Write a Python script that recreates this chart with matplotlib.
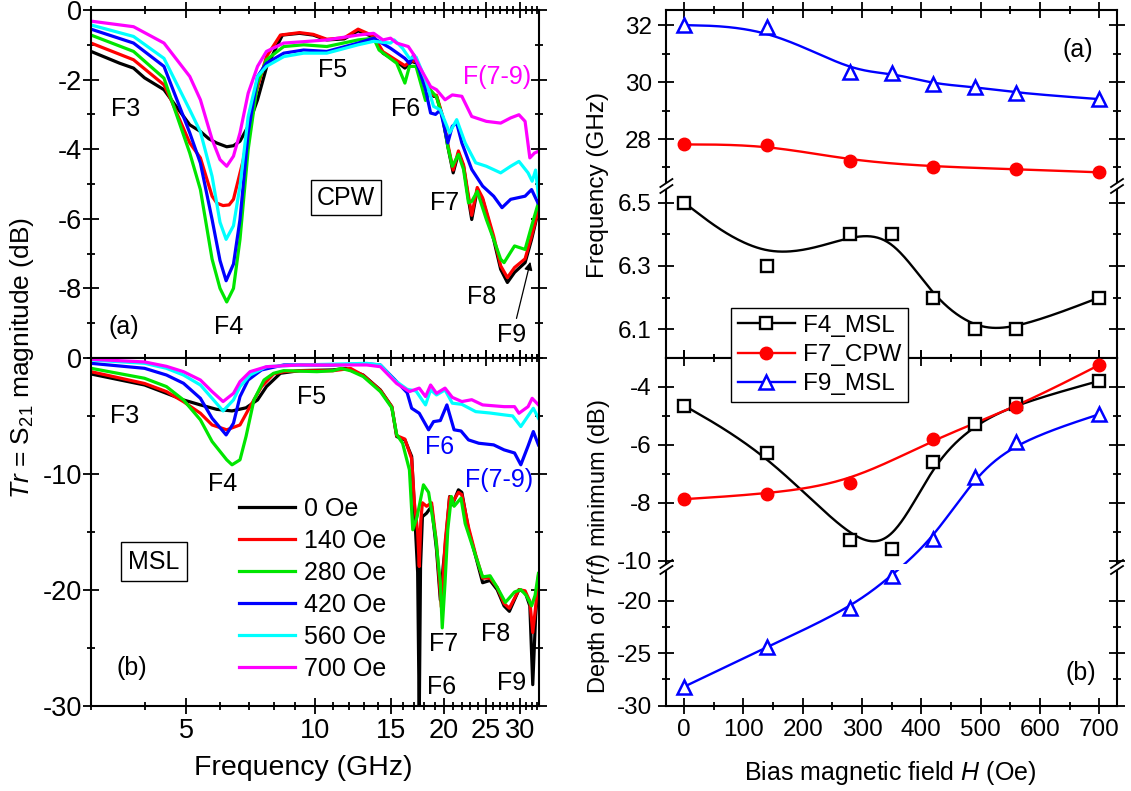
import numpy as np
import matplotlib
matplotlib.use("Agg")
import matplotlib.pyplot as plt
from matplotlib.ticker import FixedLocator, MultipleLocator, NullFormatter, FormatStrFormatter
from matplotlib.lines import Line2D
from matplotlib.patches import Rectangle

plt.rcParams['font.family'] = ['Liberation Sans', 'DejaVu Sans']
plt.rcParams['mathtext.fontset'] = 'custom'
plt.rcParams['mathtext.rm'] = 'Liberation Sans'
plt.rcParams['mathtext.it'] = 'Liberation Sans:italic'
plt.rcParams['mathtext.bf'] = 'Liberation Sans:bold'
plt.rcParams['axes.unicode_minus'] = False

# ---------------- data : CPW spectra (panel a, left) ----------------
cpw_f_0 = [3.0, 3.5, 3.77, 4.0, 4.44, 4.6, 5.1, 5.4, 5.65, 5.89, 6.22, 6.45, 6.68, 6.98, 7.34, 7.71, 8.39, 9.2, 9.9,
           10.65, 11.7, 12.6, 13.7, 14.4, 15.5, 16.2, 16.8, 17.3, 18.2, 18.9, 19.2, 19.9, 20.4, 21.0, 21.6, 22.2,
           22.8, 23.2, 23.9, 24.6, 26.1, 27.1, 28.1, 29.2, 30.9, 32.0, 33.1]
cpw_db_0 = [-1.19, -1.53, -1.67, -1.95, -2.29, -2.55, -3.30, -3.49, -3.70, -3.82, -3.93, -3.90, -3.77, -3.34, -2.58,
            -1.63, -0.72, -0.67, -0.72, -0.86, -0.83, -0.60, -0.78, -1.24, -1.48, -1.67, -1.48, -1.53, -2.20, -2.48,
            -2.48, -3.15, -3.92, -4.68, -4.11, -4.49, -5.44, -6.02, -5.16, -5.44, -6.59, -7.45, -7.83, -7.54, -7.26,
            -6.59, -5.83]
cpw_f_140 = [3.0, 3.77, 4.44, 4.6, 5.1, 5.4, 5.75, 5.9, 6.1, 6.3, 6.45, 6.8, 7.2, 7.7, 8.3, 9.2, 9.9, 10.65, 11.7,
             12.6, 13.7, 14.4, 15.5, 16.2, 16.8, 17.3, 18.2, 18.9, 19.2, 19.9, 20.4, 21.0, 21.6, 22.2, 22.8, 23.2,
             23.9, 24.6, 26.1, 27.1, 28.1, 29.2, 30.9, 32.0, 33.1]
cpw_db_140 = [-0.95, -1.43, -2.15, -2.55, -3.82, -4.25, -5.35, -5.55, -5.62, -5.60, -5.44, -4.30, -2.58, -1.34, -0.72,
              -0.65, -0.70, -0.84, -0.80, -0.55, -0.75, -1.20, -1.45, -1.60, -1.45, -1.50, -2.15, -2.45, -2.45, -3.10,
              -3.85, -4.60, -4.05, -4.45, -5.35, -5.90, -5.10, -5.40, -6.50, -7.35, -7.69, -7.40, -7.15, -6.50, -5.80]
cpw_f_280 = [3.0, 3.77, 4.44, 5.1, 5.4, 5.75, 6.0, 6.22, 6.45, 6.68, 6.98, 7.34, 7.7, 8.45, 9.4, 10.65, 12.6, 13.7,
             14.1, 15.5, 16.2, 16.6, 17.2, 18.1, 18.6, 19.2, 19.9, 20.4, 20.9, 21.6, 22.2, 22.8, 23.2, 23.9, 25.1,
             26.1, 27.1, 27.6, 29.2, 30.9, 32.0, 33.1]
cpw_db_280 = [-0.72, -1.19, -1.96, -4.11, -5.16, -7.16, -8.00, -8.39, -8.00, -6.59, -4.01, -2.10, -1.43, -1.05, -1.00,
              -1.05, -0.86, -0.81, -1.15, -1.53, -2.10, -1.62, -1.62, -2.60, -2.30, -2.50, -3.15, -3.92, -4.49, -4.15,
              -4.58, -5.54, -5.50, -5.21, -6.02, -6.59, -7.16, -7.26, -6.78, -6.88, -6.21, -5.59]
cpw_f_420 = [3.0, 3.77, 4.44, 5.1, 5.4, 5.75, 6.0, 6.2, 6.45, 6.68, 6.98, 7.34, 7.7, 8.45, 9.4, 10.65, 12.6, 13.7,
             15.0, 16.2, 16.6, 17.0, 17.5, 18.1, 18.6, 19.1, 19.6, 20.4, 20.9, 21.4, 22.0, 23.2, 24.6, 26.1, 27.3,
             28.6, 30.9, 32.0, 33.1]
cpw_db_420 = [-0.55, -0.95, -1.62, -3.53, -4.40, -6.02, -7.20, -7.78, -7.30, -6.02, -3.53, -1.91, -1.53, -1.24, -1.15,
              -1.19, -0.95, -0.81, -1.10, -1.39, -1.53, -1.29, -1.72, -2.29, -2.96, -3.00, -2.87, -3.82, -3.34, -3.25,
              -3.82, -4.58, -5.06, -5.35, -5.68, -5.44, -5.35, -5.16, -5.54]
cpw_f_560 = [3.0, 3.77, 4.44, 5.1, 5.4, 5.75, 6.0, 6.2, 6.45, 6.68, 6.98, 7.34, 7.7, 8.45, 9.4, 10.65, 12.6, 13.7,
             15.0, 15.3, 16.0, 16.6, 17.2, 18.1, 18.9, 19.6, 20.6, 21.4, 22.4, 23.7, 25.1, 27.1, 28.6, 29.9, 31.4,
             32.1, 32.7, 33.2]
cpw_db_560 = [-0.43, -0.76, -1.39, -2.87, -3.50, -4.78, -6.10, -6.59, -6.20, -5.06, -3.06, -1.91, -1.62, -1.34, -1.24,
              -1.24, -1.00, -0.90, -0.95, -0.86, -1.10, -1.39, -1.35, -2.00, -2.77, -2.87, -3.53, -3.15, -3.82, -4.39,
              -4.49, -4.68, -4.49, -4.35, -4.68, -4.92, -4.60, -5.35]
cpw_f_700 = [3.0, 3.77, 4.44, 5.1, 5.4, 5.75, 6.0, 6.22, 6.45, 6.68, 6.98, 7.34, 7.7, 8.45, 9.4, 10.65, 12.6, 13.7,
             14.4, 15.0, 15.5, 16.5, 16.9, 17.5, 18.6, 19.2, 20.1, 20.9, 22.0, 23.2, 25.1, 27.1, 28.6, 29.9, 30.9,
             31.7, 32.5, 33.2]
cpw_db_700 = [-0.32, -0.48, -0.95, -1.91, -2.58, -3.72, -4.30, -4.49, -4.20, -3.53, -2.39, -1.62, -1.19, -0.95, -0.91,
              -0.86, -0.72, -0.67, -0.86, -0.81, -0.95, -1.05, -1.24, -1.62, -2.20, -2.29, -2.58, -2.44, -2.48, -3.06,
              -3.20, -3.25, -3.10, -3.01, -3.20, -4.25, -4.11, -4.06]

# ---------------- data : MSL spectra (panel b, left) ----------------
msl_f_0 = [3.0, 4.0, 4.5, 4.93, 5.4, 5.89, 6.4, 6.9, 7.34, 7.7, 8.3, 9.2, 11.0, 11.8, 12.95, 14.2, 15.1, 15.5, 16.2,
           16.8, 17.05, 17.35, 17.5, 17.62, 17.8, 18.2, 18.7, 19.2, 19.6, 19.9, 20.1, 20.6, 20.9, 21.6, 22.0, 22.8,
           23.7, 24.6, 25.6, 26.6, 27.6, 28.4, 29.9, 30.9, 31.7, 32.2, 32.7, 33.2]
msl_db_0 = [-1.38, -2.33, -3.05, -3.62, -4.05, -4.43, -4.57, -4.30, -3.62, -2.47, -1.32, -1.09, -1.03, -0.90, -1.47,
            -2.76, -4.20, -6.78, -7.07, -8.50, -13.0, -18.5, -31.0, -18.0, -13.7, -13.4, -12.8, -16.55, -20.9, -18.0,
            -16.5, -11.96, -12.67, -11.38, -11.6, -14.83, -17.13, -19.4, -19.2, -20.0, -21.4, -21.87, -20.0, -20.2,
            -21.4, -28.2, -22.3, -19.1]
msl_f_140 = [3.0, 4.0, 4.5, 4.93, 5.4, 5.75, 6.22, 6.68, 7.05, 7.5, 8.0, 8.45, 9.2, 11.0, 12.1, 12.95, 14.2, 15.1,
             15.5, 16.2, 16.8, 17.05, 17.35, 17.5, 17.65, 17.8, 18.2, 18.7, 19.2, 19.7, 20.1, 20.6, 20.9, 21.6, 22.0,
             22.8, 23.7, 24.6, 25.6, 26.6, 27.6, 28.4, 29.9, 30.9, 31.7, 32.2, 32.7, 33.2]
msl_db_140 = [-1.18, -2.20, -2.90, -3.77, -4.77, -5.78, -6.20, -5.78, -4.20, -2.47, -1.38, -1.18, -1.10, -1.10, -0.90,
              -1.50, -2.80, -4.20, -6.70, -7.00, -8.70, -12.5, -15.0, -18.0, -14.0, -12.5, -12.8, -12.5, -16.0, -21.5,
              -16.0, -12.0, -12.5, -11.6, -11.8, -14.6, -17.0, -19.0, -19.0, -19.8, -21.2, -21.6, -20.0, -20.1, -21.0,
              -23.7, -21.5, -18.8]
msl_f_280 = [3.0, 4.0, 4.5, 4.93, 5.4, 5.75, 6.22, 6.4, 6.68, 6.9, 7.2, 7.6, 8.0, 8.45, 10.1, 11.0, 11.5, 12.1, 12.95,
             14.2, 15.1, 15.5, 16.0, 16.6, 16.9, 17.3, 17.9, 18.4, 19.1, 19.6, 19.8, 20.1, 20.4, 20.8, 21.1, 21.9,
             22.4, 23.7, 24.6, 25.6, 26.6, 27.8, 29.2, 30.2, 31.1, 32.0, 32.6, 33.2]
msl_db_280 = [-0.89, -1.75, -2.47, -3.62, -5.34, -7.21, -8.79, -9.22, -8.79, -6.78, -3.62, -1.90, -1.32, -1.09, -1.18,
              -1.10, -0.90, -1.10, -1.60, -2.90, -4.30, -6.60, -7.36, -9.66, -14.83, -13.7, -10.95, -11.6, -15.4,
              -19.4, -23.3, -19.4, -14.8, -11.96, -12.8, -12.1, -14.3, -17.1, -18.9, -18.8, -19.8, -21.1, -20.2,
              -20.0, -20.5, -21.4, -20.5, -18.6]
msl_f_420 = [3.0, 4.0, 4.5, 4.93, 5.4, 5.75, 6.2, 6.45, 6.68, 6.98, 7.5, 8.45, 11.0, 13.2, 14.2, 15.5, 16.4, 16.8,
             17.5, 18.4, 18.9, 19.6, 20.3, 21.1, 21.9, 22.8, 24.1, 26.1, 27.6, 29.2, 30.2, 31.4, 32.3, 33.2]
msl_db_420 = [-0.46, -0.89, -1.47, -2.18, -3.48, -5.20, -6.64, -5.63, -3.33, -1.90, -1.03, -0.60, -0.60, -0.50, -0.60,
              -2.04, -3.00, -4.34, -4.77, -6.20, -5.49, -5.40, -4.05, -6.20, -6.30, -7.07, -7.36, -7.50, -7.93, -8.20,
              -9.22, -7.60, -6.35, -7.50]
msl_f_560 = [3.0, 4.0, 4.5, 4.93, 5.4, 5.75, 6.1, 6.45, 6.68, 7.05, 7.7, 9.2, 13.2, 14.2, 15.3, 16.4, 17.2, 18.1,
             18.6, 19.2, 20.1, 20.9, 22.0, 23.7, 25.6, 27.6, 28.9, 30.2, 31.4, 32.3, 33.2]
msl_db_560 = [-0.17, -0.46, -0.89, -1.47, -2.33, -3.48, -4.57, -3.62, -2.47, -1.47, -0.75, -0.60, -0.46, -0.60, -1.90,
              -2.70, -2.85, -4.05, -2.75, -3.19, -2.75, -3.90, -4.00, -4.63, -4.75, -4.91, -5.00, -5.92, -5.00, -4.34,
              -5.20]
msl_f_700 = [3.0, 4.0, 4.5, 4.93, 5.4, 5.75, 6.1, 6.45, 6.68, 7.05, 7.7, 9.2, 13.2, 14.2, 15.5, 16.6, 17.5, 18.1,
             18.6, 19.2, 20.1, 20.9, 22.0, 23.2, 24.6, 27.6, 29.2, 29.9, 31.4, 32.1, 33.2]
msl_db_700 = [-0.11, -0.34, -0.72, -1.18, -1.90, -2.90, -3.76, -3.05, -2.04, -1.18, -0.75, -0.60, -0.60, -0.75, -2.20,
              -2.90, -2.60, -3.33, -2.33, -3.05, -2.60, -3.40, -3.76, -3.60, -4.05, -4.20, -4.20, -4.77, -4.20, -3.48,
              -4.05]

field_labels = ['0 Oe', '140 Oe', '280 Oe', '420 Oe', '560 Oe', '700 Oe']
curve_colors = ['#000000', '#ff0000', '#00e600', '#0000ff', '#00ffff', '#ff00ff']

# ---------------- data : right panels ----------------
field_H = [0, 140, 280, 350, 420, 490, 560, 700]
field_H_cpw = [0, 140, 280, 420, 560, 700]
f4_msl_freq = [6.5, 6.3, 6.4, 6.4, 6.2, 6.1, 6.1, 6.2]
f7_cpw_freq = [27.81, 27.80, 27.24, 27.03, 26.94, 26.83]
f9_msl_freq = [32.0, 31.93, 30.37, 30.33, 29.93, 29.83, 29.62, 29.40]
f4_msl_depth = [-4.65, -6.3, -9.3, -9.6, -6.6, -5.3, -4.6, -3.8]
f7_cpw_depth = [-7.88, -7.70, -7.31, -5.81, -4.71, -3.25]
f9_msl_depth = [-28.2, -24.4, -20.7, -17.6, -9.25, -7.1, -5.9, -4.95]

# ---------------- figure / layout ----------------
W, H = 1131, 791
fig = plt.figure(figsize=(W / 100, H / 100), dpi=100)


def fx(px):
    return px / W


def fy(py):
    return 1 - py / H


def add_ax(x0, x1, y0, y1):
    return fig.add_axes([fx(x0), fy(y1), (x1 - x0) / W, (y1 - y0) / H])


SP_LW = 1.5
FS_L = 18      # annotations / legend (left)
FS_LT = 19.5   # tick labels (left)
FS_LL = 20.5   # axis titles (left)
FS_R = 17.5    # legend / labels (right)
FS_RT = 17.5   # tick labels (right)


def style(ax, fs, pad_x=4, pad_y=1.5):
    for s in ax.spines.values():
        s.set_linewidth(SP_LW)
    ax.tick_params(which='both', direction='inout', top=True, right=True, width=1.3, labelsize=fs)
    ax.tick_params(which='major', length=11)
    ax.tick_params(which='minor', length=5.5)
    ax.tick_params(axis='x', pad=pad_x)
    ax.tick_params(axis='y', pad=pad_y)


# ---- left panels ----
LX0, LX1 = 91, 539
ax_t = add_ax(LX0, LX1, 10, 358)
ax_b = add_ax(LX0, LX1, 358, 705.5)

cpw_sets = [(cpw_f_0, cpw_db_0), (cpw_f_140, cpw_db_140), (cpw_f_280, cpw_db_280),
            (cpw_f_420, cpw_db_420), (cpw_f_560, cpw_db_560), (cpw_f_700, cpw_db_700)]
msl_sets = [(msl_f_0, msl_db_0), (msl_f_140, msl_db_140), (msl_f_280, msl_db_280),
            (msl_f_420, msl_db_420), (msl_f_560, msl_db_560), (msl_f_700, msl_db_700)]

for (f, d), c in zip(cpw_sets, curve_colors):
    ax_t.plot(f, d, color=c, lw=2.3, solid_joinstyle='round')
handles = []
for (f, d), c, lab in zip(msl_sets, curve_colors, field_labels):
    h, = ax_b.plot(f, d, color=c, lw=2.3, solid_joinstyle='round', label=lab)
    handles.append(h)

major_f = [5, 10, 15, 20, 25, 30]
minor_f = [3, 4, 6, 7, 8, 9, 11, 12, 13, 14, 16, 17, 18, 19, 21, 22, 23, 24, 26, 27, 28, 29, 31, 32, 33]
for ax in (ax_t, ax_b):
    ax.set_xscale('log')
    ax.set_xlim(3.0, 33.3)
    ax.xaxis.set_major_locator(FixedLocator(major_f))
    ax.xaxis.set_minor_locator(FixedLocator(minor_f))
    ax.xaxis.set_major_formatter(FormatStrFormatter('%d'))
    ax.xaxis.set_minor_formatter(NullFormatter())
    style(ax, FS_LT, pad_x=3.5, pad_y=1.0)

ax_t.set_ylim(-10, 0)
ax_t.yaxis.set_major_locator(FixedLocator([0, -2, -4, -6, -8]))
ax_t.yaxis.set_minor_locator(FixedLocator([-1, -3, -5, -7, -9, -10]))
ax_t.tick_params(labelbottom=False)
ax_b.set_ylim(-30, 0)
ax_b.yaxis.set_major_locator(FixedLocator([0, -10, -20, -30]))
ax_b.yaxis.set_minor_locator(FixedLocator([-5, -15, -25]))

# annotations top
ax_t.text(3.62, -2.84, 'F3', fontsize=FS_L, ha='center', va='center')
ax_t.text(6.27, -9.11, 'F4', fontsize=FS_L, ha='center', va='center')
ax_t.text(10.96, -1.72, 'F5', fontsize=FS_L, ha='center', va='center')
ax_t.text(16.3, -2.84, 'F6', fontsize=FS_L, ha='center', va='center')
ax_t.text(20.1, -5.56, 'F7', fontsize=FS_L, ha='center', va='center')
ax_t.text(24.5, -8.25, 'F8', fontsize=FS_L, ha='center', va='center')
ax_t.text(28.8, -9.34, 'F9', fontsize=FS_L, ha='center', va='center')
ax_t.text(26.6, -1.92, 'F(7-9)', fontsize=FS_L, ha='center', va='center', color='#ff00ff')
ax_t.text(3.58, -9.11, '(a)', fontsize=FS_L, ha='center', va='center')
ax_t.text(11.81, -5.39, 'CPW', fontsize=FS_L, ha='center', va='center',
          bbox=dict(boxstyle='square,pad=0.22', fc='white', ec='black', lw=1.0))
ax_t.annotate('', xy=(31.9, -7.16), xytext=(29.4, -8.94),
              arrowprops=dict(arrowstyle='-|>', color='black', lw=0.9, mutation_scale=12))

# annotations bottom
ax_b.text(3.60, -5.0, 'F3', fontsize=FS_L, ha='center', va='center')
ax_b.text(6.07, -10.86, 'F4', fontsize=FS_L, ha='center', va='center')
ax_b.text(9.79, -3.36, 'F5', fontsize=FS_L, ha='center', va='center')
ax_b.text(19.57, -7.67, 'F6', fontsize=FS_L, ha='center', va='center', color='#0000ff')
ax_b.text(26.88, -10.52, 'F(7-9)', fontsize=FS_L, ha='center', va='center', color='#0000ff')
ax_b.text(19.89, -24.66, 'F7', fontsize=FS_L, ha='center', va='center')
ax_b.text(19.68, -28.36, 'F6', fontsize=FS_L, ha='center', va='center')
ax_b.text(26.44, -23.79, 'F8', fontsize=FS_L, ha='center', va='center')
ax_b.text(28.8, -28.02, 'F9', fontsize=FS_L, ha='center', va='center')
ax_b.text(3.74, -26.72, '(b)', fontsize=FS_L, ha='center', va='center')
ax_b.text(4.21, -17.59, 'MSL', fontsize=FS_L, ha='center', va='center',
          bbox=dict(boxstyle='square,pad=0.3', fc='white', ec='black', lw=1.0))

ax_b.legend(handles=handles, loc='upper left', bbox_to_anchor=(fx(239), fy(497)),
            bbox_transform=fig.transFigure, frameon=False, borderpad=0, borderaxespad=0,
            handlelength=2.25, handletextpad=0.35, labelspacing=0.32, fontsize=FS_L)

fig.text(fx(22), fy(358), r'$\mathit{Tr}$ = S$_{21}$ magnitude (dB)', rotation=90,
         ha='center', va='center', fontsize=19)
fig.text(fx(303), fy(768), 'Frequency (GHz)', ha='center', va='center', fontsize=FS_LL)

# ---- right panels ----
RX0, RX1 = 666.4, 1117
B1, B2 = 186, 567
r1 = add_ax(RX0, RX1, 10, B1)
r2 = add_ax(RX0, RX1, B1, 358)
r3 = add_ax(RX0, RX1, 358, B2)
r4 = add_ax(RX0, RX1, B2, 705.5)

for ax in (r1, r2, r3, r4):
    ax.set_xlim(-30, 730)
    ax.xaxis.set_major_locator(MultipleLocator(100))
    ax.xaxis.set_minor_locator(MultipleLocator(50))
    style(ax, FS_RT, pad_x=4, pad_y=5.0)

r1.set_ylim(26.35, 32.53)
r1.yaxis.set_major_locator(FixedLocator([28, 30, 32]))
r1.yaxis.set_minor_locator(FixedLocator([27, 29, 31]))
r2.set_ylim(6.009, 6.553)
r2.yaxis.set_major_locator(FixedLocator([6.1, 6.3, 6.5]))
r2.yaxis.set_minor_locator(FixedLocator([6.2, 6.4]))
r2.yaxis.set_major_formatter(FormatStrFormatter('%.1f'))
r3.set_ylim(-10.22, -3.01)
r3.yaxis.set_major_locator(FixedLocator([-4, -6, -8, -10]))
r3.yaxis.set_minor_locator(FixedLocator([-5, -7, -9]))
r4.set_ylim(-30, -16.75)
r4.yaxis.set_major_locator(FixedLocator([-20, -25, -30]))
r4.yaxis.set_minor_locator(FixedLocator([-22.5, -27.5]))

r1.spines['bottom'].set_visible(False)
r1.tick_params(which='both', bottom=False, labelbottom=False)
r2.spines['top'].set_visible(False)
r2.tick_params(which='both', top=False, labelbottom=False)
r3.spines['bottom'].set_visible(False)
r3.tick_params(which='both', bottom=False, labelbottom=False)
r4.spines['top'].set_visible(False)
r4.tick_params(which='both', top=False)


def bspline(x, y, n=40):
    P = np.column_stack([x, y]).astype(float)
    P = np.vstack([P[:1], P[:1], P, P[-1:], P[-1:]])
    t = np.linspace(0, 1, n)[:, None]
    b0 = (1 - t) ** 3 / 6
    b1 = (3 * t ** 3 - 6 * t ** 2 + 4) / 6
    b2 = (-3 * t ** 3 + 3 * t ** 2 + 3 * t + 1) / 6
    b3 = t ** 3 / 6
    segs = [b0 * P[i] + b1 * P[i + 1] + b2 * P[i + 2] + b3 * P[i + 3] for i in range(len(P) - 3)]
    c = np.vstack(segs)
    return c[:, 0], c[:, 1]


LW_R = 1.7
sq = dict(marker='s', ms=8, mfc='white', mec='black', mew=1.7, ls='none', zorder=4)
ci = dict(marker='o', ms=9, mfc='#ff0000', mec='#ff0000', ls='none', zorder=4)
tr = dict(marker='^', ms=10, mfc='white', mec='#0000ff', mew=1.8, ls='none', zorder=4)

# top: frequencies
sx, sy = bspline(field_H, f9_msl_freq)
r1.plot(sx, sy, color='#0000ff', lw=LW_R)
r1.plot(field_H, f9_msl_freq, **tr)
sx, sy = bspline(field_H_cpw, f7_cpw_freq)
r1.plot(sx, sy, color='#ff0000', lw=LW_R)
r1.plot(field_H_cpw, f7_cpw_freq, **ci)
sx, sy = bspline(field_H, f4_msl_freq)
r2.plot(sx, sy, color='black', lw=LW_R)
r2.plot(field_H, f4_msl_freq, **sq)

# bottom: depths
sx, sy = bspline(field_H, f4_msl_depth)
r3.plot(sx, sy, color='black', lw=LW_R)
r3.plot(field_H, f4_msl_depth, **sq)
sx, sy = bspline(field_H_cpw, f7_cpw_depth)
r3.plot(sx, sy, color='#ff0000', lw=LW_R)
r3.plot(field_H_cpw, f7_cpw_depth, **ci)

# F9 depth spans the axis break: spline in display space, then map back per axis
disp = np.array([(r3 if v > r3.get_ylim()[0] else r4).transData.transform((h, v))
                 for h, v in zip(field_H, f9_msl_depth)])
sx, sy = bspline(disp[:, 0], disp[:, 1])
for ax in (r3, r4):
    dd = ax.transData.inverted().transform(np.column_stack([sx, sy]))
    ax.plot(dd[:, 0], dd[:, 1], color='#0000ff', lw=LW_R)
for h, v in zip(field_H, f9_msl_depth):
    (r3 if v > r3.get_ylim()[0] else r4).plot([h], [v], **tr)

r1.text(664, 31.12, '(a)', fontsize=FS_L, ha='center', va='center')
r4.text(669, -26.88, '(b)', fontsize=FS_L, ha='center', va='center')

leg_h = [Line2D([], [], color='black', lw=LW_R, marker='s', ms=8, mfc='white', mec='black', mew=1.7),
         Line2D([], [], color='#ff0000', lw=LW_R, marker='o', ms=9, mfc='#ff0000', mec='#ff0000'),
         Line2D([], [], color='#0000ff', lw=LW_R, marker='^', ms=10, mfc='white', mec='#0000ff', mew=1.8)]
leg = fig.legend(leg_h, ['F4_MSL', 'F7_CPW', 'F9_MSL'], loc='upper left',
                 bbox_to_anchor=(fx(731), fy(308)), bbox_transform=fig.transFigure,
                 fontsize=FS_R, frameon=True, fancybox=False, framealpha=1, edgecolor='black',
                 borderpad=0.28, borderaxespad=0, handlelength=2.35, handletextpad=0.33, labelspacing=0.3)
leg.get_frame().set_linewidth(1.0)
leg.set_zorder(20)

fig.text(fx(598), fy(185), 'Frequency (GHz)', rotation=90, ha='center', va='center', fontsize=FS_R)
fig.text(fx(598), fy(547), r'Depth of $\mathit{Tr}$($\mathit{f}$) minimum (dB)', rotation=90,
         ha='center', va='center', fontsize=17)
fig.text(fx(890), fy(773), r'Bias magnetic field $\mathit{H}$ (Oe)', ha='center', va='center', fontsize=18)

# axis-break bands and slashes
for yb in (B1, B2):
    fig.add_artist(Rectangle((fx(RX0 - 8), fy(yb + 3)), (RX1 - RX0 + 16) / W, 6 / H,
                             transform=fig.transFigure, fc='white', ec='none', zorder=10))
    for xs in (RX0, RX1):
        for off in (-3, 3):
            fig.add_artist(Line2D([fx(xs - 6), fx(xs + 6)], [fy(yb + off + 4), fy(yb + off - 4)],
                                  transform=fig.transFigure, color='black', lw=1.3, zorder=11))

fig.savefig('out.png', dpi=100)
